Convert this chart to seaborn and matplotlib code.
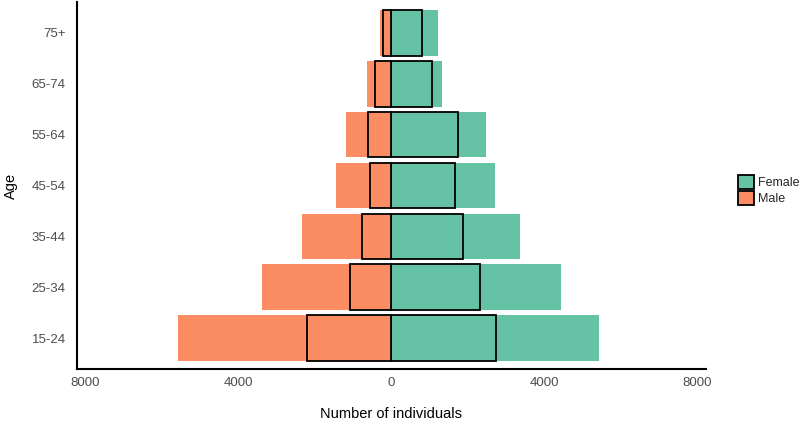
import matplotlib
matplotlib.use("Agg")
import matplotlib.pyplot as plt
from matplotlib.patches import Patch
import seaborn as sns
import pandas as pd

ages = ['15-24', '25-34', '35-44', '45-54', '55-64', '65-74', '75+']
female_total = [5430, 4440, 3370, 2720, 2480, 1330, 1230]
male_total = [5590, 3390, 2350, 1460, 1180, 650, 310]
female_sub = [2740, 2320, 1880, 1670, 1750, 1050, 810]
male_sub = [2220, 1070, 760, 550, 600, 420, 210]
sexes = ['Female', 'Male']
colors = {'Female': '#66c2a5', 'Male': '#fc8d62'}
xticks = [-8000, -4000, 0, 4000, 8000]

sns.set_theme(style="white")
plt.rcParams['font.family'] = ['Liberation Sans', 'DejaVu Sans']

def long_df(fem, mal):
    rows = []
    for a, f, m in zip(ages, fem, mal):
        rows.append({'age': a, 'sex': 'Female', 'value': f})
        rows.append({'age': a, 'sex': 'Male', 'value': -m})
    return pd.DataFrame(rows)

df_total = long_df(female_total, male_total)
df_sub = long_df(female_sub, male_sub)
order = ages[::-1]

fig = plt.figure(figsize=(8, 4.24), dpi=100)
ax = fig.add_axes([0.096, 0.130, 0.7865, 0.865])

sns.barplot(data=df_total, x='value', y='age', hue='sex', order=order,
            hue_order=sexes, palette=colors, dodge=False, width=0.9,
            orient='h', linewidth=0, saturation=1, legend=False, ax=ax)
sns.barplot(data=df_sub, x='value', y='age', hue='sex', order=order,
            hue_order=sexes, palette=colors, dodge=False, width=0.9,
            orient='h', edgecolor='black', linewidth=1.3, saturation=1,
            legend=False, ax=ax)

ax.set_xlim(-8230, 8230)
ax.set_ylim(6.6, -0.6)
ax.set_xticks(xticks)
ax.set_xticklabels([str(abs(t)) for t in xticks])
ax.tick_params(axis='both', length=0, labelsize=9.5, labelcolor='#4d4d4d')
ax.tick_params(axis='x', pad=6)
ax.tick_params(axis='y', pad=8)
ax.set_xlabel('Number of individuals', fontsize=10.5, labelpad=13, color='black')
ax.set_ylabel('Age', fontsize=10.5, labelpad=10, color='black')
for s in ['top', 'right']:
    ax.spines[s].set_visible(False)
for s in ['left', 'bottom']:
    ax.spines[s].set_color('black')
    ax.spines[s].set_linewidth(1.5)

handles = [Patch(facecolor=colors[s], edgecolor='black', linewidth=1.3, label=s) for s in sexes]
fig.legend(handles=handles, loc='center left', bbox_to_anchor=(0.922, 0.552),
           frameon=False, fontsize=9, handlelength=1.35, handleheight=1.4,
           handletextpad=0.25, labelspacing=0.1, borderpad=0, borderaxespad=0)

fig.savefig('out.png', dpi=100)
